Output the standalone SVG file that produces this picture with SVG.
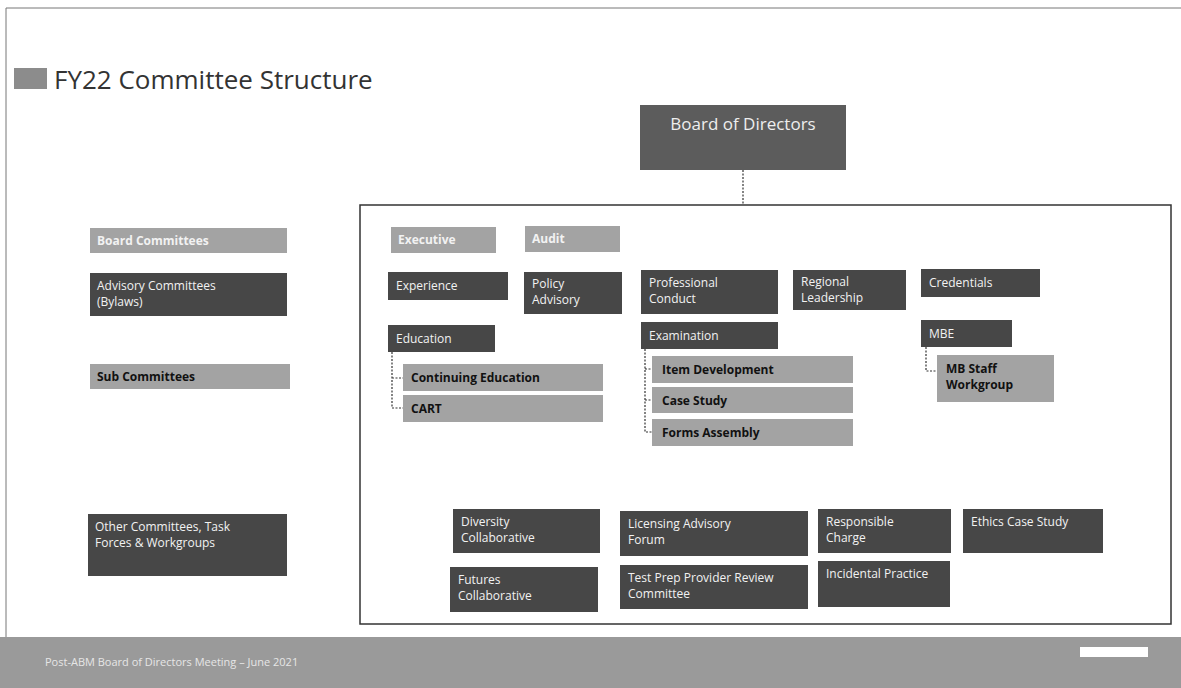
<svg xmlns="http://www.w3.org/2000/svg" width="1181" height="688" viewBox="0 0 1181 688">
<style>
text{font-family:"Open Sans","Liberation Sans",sans-serif;}
.dk{fill:#474747;}
.lt{fill:#a3a3a3;}
.tw{fill:#f2f2f2;font-size:12px;}
.tb{fill:#111;font-size:12px;font-weight:bold;}
.tlw{fill:#f2f2f2;font-size:12px;font-weight:bold;}
.con{stroke:#333;stroke-width:1.2;stroke-dasharray:2 1.5;fill:none;}
</style>
<rect width="1181" height="688" fill="#fff"/>
<path d="M6 688V8H1181" fill="none" stroke="#777" stroke-width="1"/>
<rect x="14" y="68" width="33" height="21" fill="#8c8c8c"/>
<text x="54" y="89" font-size="26" fill="#333">FY22 Committee Structure</text>

<g id="board-of-directors">
<rect x="640" y="105" width="206" height="65" fill="#5c5c5c"/>
<text x="743" y="130" font-size="17" fill="#eee" text-anchor="middle">Board of Directors</text>
</g>

<g id="container">
<rect x="360" y="205" width="811" height="419" fill="none" stroke="#333" stroke-width="1.5"/>
</g>

<g id="connectors">
<path class="con" d="M743 170V205"/>
<path class="con" d="M392 352V408H403M392 378H403"/>
<path class="con" d="M645 349V432H652M645 369H652M645 400H652"/>
<path class="con" d="M926 347V371H937"/>
</g>

<g id="legend-board"><rect class="lt" x="90" y="228" width="197" height="25"/><text class="tlw" x="97" y="245">Board Committees</text></g>
<g id="legend-advisory"><rect class="dk" x="90" y="273" width="197" height="43"/><text class="tw" x="97" y="290">Advisory Committees</text><text class="tw" x="97" y="306">(Bylaws)</text></g>
<g id="legend-sub"><rect class="lt" x="90" y="364" width="200" height="25"/><text class="tb" x="97" y="381">Sub Committees</text></g>
<g id="legend-other"><rect class="dk" x="88" y="514" width="199" height="62"/><text class="tw" x="95" y="531">Other Committees, Task</text><text class="tw" x="95" y="547">Forces &amp; Workgroups</text></g>

<g id="executive"><rect class="lt" x="391" y="227" width="105" height="26"/><text class="tlw" x="398" y="244">Executive</text></g>
<g id="audit"><rect class="lt" x="525" y="226" width="95" height="26"/><text class="tlw" x="532" y="243">Audit</text></g>
<g id="experience"><rect class="dk" x="388" y="272" width="120" height="28"/><text class="tw" x="396" y="290">Experience</text></g>
<g id="policy-advisory"><rect class="dk" x="524" y="272" width="98" height="42"/><text class="tw" x="532" y="288">Policy</text><text class="tw" x="532" y="304">Advisory</text></g>
<g id="professional-conduct"><rect class="dk" x="641" y="270" width="137" height="44"/><text class="tw" x="649" y="287">Professional</text><text class="tw" x="649" y="303">Conduct</text></g>
<g id="regional-leadership"><rect class="dk" x="793" y="270" width="113" height="40"/><text class="tw" x="801" y="286">Regional</text><text class="tw" x="801" y="302">Leadership</text></g>
<g id="credentials"><rect class="dk" x="921" y="269" width="119" height="28"/><text class="tw" x="929" y="287">Credentials</text></g>

<g id="education"><rect class="dk" x="388" y="325" width="107" height="27"/><text class="tw" x="396" y="343">Education</text></g>
<g id="continuing-education"><rect class="lt" x="403" y="364" width="200" height="27"/><text class="tb" x="411" y="382">Continuing Education</text></g>
<g id="cart"><rect class="lt" x="403" y="395" width="200" height="27"/><text class="tb" x="411" y="413">CART</text></g>

<g id="examination"><rect class="dk" x="641" y="322" width="137" height="27"/><text class="tw" x="649" y="340">Examination</text></g>
<g id="item-development"><rect class="lt" x="652" y="356" width="201" height="27"/><text class="tb" x="662" y="374">Item Development</text></g>
<g id="case-study"><rect class="lt" x="652" y="387" width="201" height="26"/><text class="tb" x="662" y="405">Case Study</text></g>
<g id="forms-assembly"><rect class="lt" x="652" y="419" width="201" height="27"/><text class="tb" x="662" y="437">Forms Assembly</text></g>

<g id="mbe"><rect class="dk" x="921" y="320" width="91" height="27"/><text class="tw" x="929" y="338">MBE</text></g>
<g id="mb-staff-workgroup"><rect class="lt" x="937" y="355" width="117" height="47"/><text class="tb" x="946" y="373">MB Staff</text><text class="tb" x="946" y="389">Workgroup</text></g>

<g id="diversity-collaborative"><rect class="dk" x="453" y="509" width="147" height="44"/><text class="tw" x="461" y="526">Diversity</text><text class="tw" x="461" y="542">Collaborative</text></g>
<g id="licensing-advisory-forum"><rect class="dk" x="620" y="511" width="188" height="45"/><text class="tw" x="628" y="528">Licensing Advisory</text><text class="tw" x="628" y="544">Forum</text></g>
<g id="responsible-charge"><rect class="dk" x="818" y="509" width="133" height="44"/><text class="tw" x="826" y="526">Responsible</text><text class="tw" x="826" y="542">Charge</text></g>
<g id="ethics-case-study"><rect class="dk" x="963" y="509" width="140" height="44"/><text class="tw" x="971" y="526">Ethics Case Study</text></g>
<g id="futures-collaborative"><rect class="dk" x="450" y="567" width="148" height="45"/><text class="tw" x="458" y="584">Futures</text><text class="tw" x="458" y="600">Collaborative</text></g>
<g id="test-prep"><rect class="dk" x="620" y="565" width="188" height="44"/><text class="tw" x="628" y="582">Test Prep Provider Review</text><text class="tw" x="628" y="598">Committee</text></g>
<g id="incidental-practice"><rect class="dk" x="818" y="561" width="132" height="46"/><text class="tw" x="826" y="578">Incidental Practice</text></g>

<rect x="0" y="637" width="1181" height="51" fill="#9a9a9a"/>
<text x="45" y="666" font-size="11" fill="#e6e6e6">Post-ABM Board of Directors Meeting – June 2021</text>
<rect x="1080" y="647" width="68" height="10" fill="#fff"/>
</svg>
